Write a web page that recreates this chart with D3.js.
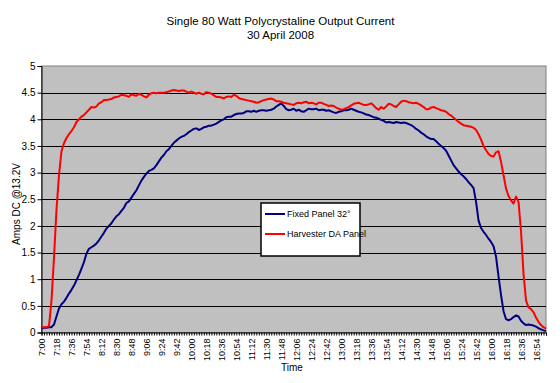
<!DOCTYPE html>
<html>
<head>
<meta charset="utf-8">
<script src="https://cdn.jsdelivr.net/npm/d3@7"></script>
<style>
  html, body { margin: 0; padding: 0; background: #fff; }
  svg { display: block; font-family: "Liberation Sans", Arial, sans-serif; }
</style>
</head>
<body>
<svg id="chart" width="560" height="383"></svg>
<script>
// ---- data ----
const titleLines = ["Single 80 Watt Polycrystaline Output Current", "30 April 2008"];
const yLabel = "Amps DC @13.2V";
const xLabel = "Time";
const seriesNames = ["Fixed Panel 32°", "Harvester DA Panel"];
const seriesColors = ["#000080", "#ff0000"];
const startMinutes = 7 * 60;   // first reading 7:00
const stepMinutes = 3;         // one reading every 3 minutes
const yTicks = [0, 0.5, 1, 1.5, 2, 2.5, 3, 3.5, 4, 4.5, 5];
const xTickLabels = ["7:00","7:18","7:36","7:54","8:12","8:30","8:48","9:06","9:24","9:42",
  "10:00","10:18","10:36","10:54","11:12","11:30","11:48","12:06","12:24","12:42",
  "13:00","13:18","13:36","13:54","14:12","14:30","14:48","15:06","15:24","15:42",
  "16:00","16:18","16:36","16:54"];

const fixedPanel = [
  0.08,0.09,0.09,0.1,0.1,0.15,0.3,0.45,0.53,0.58,
  0.65,0.73,0.8,0.88,0.98,1.08,1.2,1.32,1.48,1.57,
  1.6,1.63,1.67,1.73,1.8,1.87,1.95,2.0,2.05,2.12,
  2.18,2.22,2.28,2.34,2.43,2.46,2.53,2.6,2.67,2.76,
  2.85,2.92,2.98,3.03,3.05,3.08,3.14,3.21,3.28,3.33,
  3.4,3.44,3.5,3.56,3.6,3.64,3.67,3.69,3.72,3.76,
  3.79,3.82,3.83,3.8,3.82,3.85,3.86,3.88,3.88,3.9,
  3.92,3.95,3.98,4.0,4.04,4.05,4.05,4.08,4.1,4.11,
  4.11,4.12,4.15,4.15,4.14,4.16,4.14,4.16,4.17,4.17,
  4.16,4.17,4.18,4.2,4.24,4.27,4.3,4.25,4.19,4.17,
  4.18,4.2,4.16,4.18,4.15,4.14,4.17,4.2,4.19,4.19,
  4.2,4.17,4.18,4.18,4.16,4.17,4.15,4.13,4.12,4.14,
  4.15,4.17,4.17,4.18,4.2,4.18,4.16,4.14,4.13,4.11,
  4.09,4.08,4.06,4.04,4.03,4.01,3.99,3.97,3.94,3.95,
  3.94,3.93,3.95,3.94,3.93,3.94,3.93,3.91,3.89,3.86,
  3.82,3.79,3.75,3.72,3.68,3.65,3.63,3.63,3.59,3.54,
  3.5,3.46,3.41,3.32,3.23,3.14,3.08,3.02,2.97,2.93,
  2.88,2.82,2.77,2.71,2.45,2.1,1.96,1.89,1.83,1.76,
  1.7,1.62,1.42,1.05,0.7,0.4,0.25,0.23,0.25,0.29,
  0.32,0.3,0.22,0.17,0.14,0.15,0.14,0.13,0.11,0.08,
  0.06,0.04,0.03
];

const harvester = [
  0.1,0.1,0.1,0.12,0.6,1.4,2.3,2.95,3.4,3.55,
  3.65,3.72,3.78,3.85,3.95,4.0,4.05,4.08,4.13,4.18,
  4.23,4.22,4.24,4.3,4.32,4.36,4.36,4.37,4.38,4.41,
  4.42,4.43,4.46,4.45,4.44,4.42,4.47,4.45,4.44,4.48,
  4.46,4.43,4.41,4.46,4.49,4.5,4.49,4.5,4.5,4.5,
  4.51,4.52,4.54,4.55,4.54,4.53,4.54,4.54,4.52,4.5,
  4.52,4.5,4.48,4.5,4.48,4.47,4.51,4.5,4.48,4.45,
  4.42,4.42,4.41,4.39,4.42,4.43,4.42,4.46,4.44,4.4,
  4.38,4.37,4.36,4.35,4.34,4.33,4.31,4.32,4.34,4.36,
  4.37,4.38,4.39,4.37,4.34,4.34,4.33,4.31,4.3,4.29,
  4.28,4.27,4.3,4.31,4.3,4.32,4.33,4.3,4.31,4.3,
  4.28,4.31,4.31,4.29,4.27,4.25,4.26,4.25,4.22,4.2,
  4.18,4.19,4.21,4.23,4.26,4.29,4.3,4.31,4.29,4.27,
  4.27,4.28,4.3,4.26,4.21,4.18,4.23,4.2,4.24,4.29,
  4.28,4.25,4.23,4.28,4.33,4.35,4.34,4.32,4.31,4.3,
  4.31,4.29,4.26,4.23,4.19,4.19,4.22,4.23,4.21,4.19,
  4.17,4.16,4.14,4.1,4.07,4.03,3.99,3.95,3.92,3.89,
  3.88,3.87,3.86,3.84,3.8,3.72,3.62,3.5,3.42,3.35,
  3.31,3.3,3.38,3.4,3.2,2.95,2.7,2.56,2.48,2.42,
  2.55,2.45,1.9,1.1,0.6,0.47,0.44,0.38,0.28,0.2,
  0.14,0.1,0.07
];

// category labels (clock time of each reading)
const fmtTime = m => Math.floor(m / 60) + ":" + String(m % 60).padStart(2, "0");
const categories = fixedPanel.map((_, i) => fmtTime(startMinutes + i * stepMinutes));

// ---- layout ----
const svg = d3.select("#chart");
const plot = { left: 41.5, right: 546, top: 66, bottom: 332.5 };

const x = d3.scalePoint().domain(categories).range([plot.left, plot.right]);
const y = d3.scaleLinear().domain([0, 5]).range([plot.bottom, plot.top]);

// plot area background
svg.append("rect")
  .attr("x", plot.left).attr("y", plot.top)
  .attr("width", plot.right - plot.left).attr("height", plot.bottom - plot.top)
  .attr("fill", "#c0c0c0").attr("stroke", "#808080").attr("stroke-width", 1);

// gridlines
svg.append("g").selectAll("line")
  .data(yTicks.filter(d => d > 0 && d < 5))
  .join("line")
  .attr("x1", plot.left).attr("x2", plot.right)
  .attr("y1", d => Math.round(y(d)) + 0.5).attr("y2", d => Math.round(y(d)) + 0.5)
  .attr("stroke", "#000").attr("stroke-width", 1);

// y axis
const yAxis = svg.append("g")
  .attr("transform", `translate(${plot.left},0)`)
  .call(d3.axisLeft(y).tickValues(yTicks).tickSize(4).tickPadding(2).tickFormat(d3.format("")));
yAxis.select(".domain").attr("stroke", "#000");
yAxis.selectAll(".tick line").attr("stroke", "#000");
yAxis.selectAll("text").attr("font-size", "10px").attr("fill", "#000")
  .attr("font-family", "Liberation Sans, Arial, sans-serif");

// x axis (tick at every reading, label every 18 minutes)
const labelSet = new Set(xTickLabels);
const xAxis = svg.append("g")
  .attr("transform", `translate(0,${plot.bottom})`)
  .call(d3.axisBottom(x).tickValues(categories).tickSize(3)
    .tickFormat(d => labelSet.has(d) ? d : ""));
xAxis.select(".domain").attr("stroke", "#000");
xAxis.selectAll(".tick line").attr("stroke", "#000");
xAxis.selectAll("text")
  .attr("font-size", "9px").attr("fill", "#000")
  .attr("font-family", "Liberation Sans, Arial, sans-serif")
  .attr("text-anchor", "end")
  .attr("transform", "rotate(-90)")
  .attr("x", -6).attr("y", 0).attr("dy", "0.35em");

// lines
const line = d3.line().x((d, i) => x(categories[i])).y(d => y(d));
[fixedPanel, harvester].forEach((s, k) => {
  svg.append("path").datum(s)
    .attr("d", line)
    .attr("fill", "none")
    .attr("stroke", seriesColors[k])
    .attr("stroke-width", 2)
    .attr("stroke-linejoin", "round");
});

// title
svg.append("text").attr("x", 280.5).attr("y", 25)
  .attr("text-anchor", "middle").attr("font-size", "11.5px").attr("fill", "#000")
  .text(titleLines[0]);
svg.append("text").attr("x", 280.5).attr("y", 39)
  .attr("text-anchor", "middle").attr("font-size", "11.5px").attr("fill", "#000")
  .text(titleLines[1]);

// axis titles
svg.append("text")
  .attr("transform", "translate(20,204) rotate(-90)")
  .attr("text-anchor", "middle").attr("font-size", "10px").attr("fill", "#000")
  .text(yLabel);
svg.append("text").attr("x", 292).attr("y", 371)
  .attr("text-anchor", "middle").attr("font-size", "10px").attr("fill", "#000")
  .text(xLabel);

// legend
const lg = svg.append("g").attr("transform", "translate(261,203)");
lg.append("rect").attr("width", 99).attr("height", 53)
  .attr("fill", "#fff").attr("stroke", "#000").attr("stroke-width", 1.5);
seriesNames.forEach((name, k) => {
  const yy = 11 + k * 20;
  lg.append("line").attr("x1", 4).attr("x2", 24).attr("y1", yy).attr("y2", yy)
    .attr("stroke", seriesColors[k]).attr("stroke-width", 2);
  lg.append("text").attr("x", 26).attr("y", yy).attr("dy", "0.35em")
    .attr("font-size", "9px").attr("fill", "#000").text(name);
});
</script>
</body>
</html>
